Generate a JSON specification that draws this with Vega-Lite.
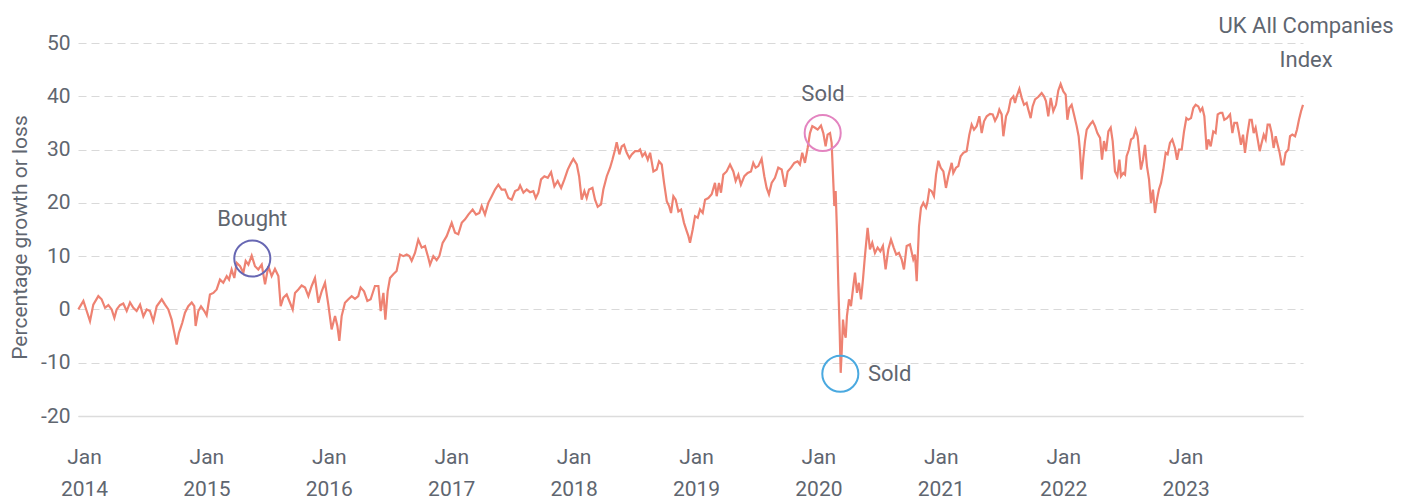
{
  "$schema": "https://vega.github.io/schema/vega-lite/v6.json",
  "width": 1225,
  "height": 373,
  "autosize": {"type": "none"},
  "padding": {"left": 78, "top": 43, "right": 99, "bottom": 87},
  "background": "#ffffff",
  "config": {
    "view": {"stroke": null},
    "font": "Roboto"
  },
  "datasets": {
    "series": [
      {"t":2013.954,"value":0},{"t":2013.995,"value":1.6},{"t":2014.022,"value":-0.3},{"t":2014.049,"value":-2.2},{"t":2014.076,"value":0.9},{"t":2014.117,"value":2.5},{"t":2014.144,"value":1.9},{"t":2014.172,"value":0.3},{"t":2014.199,"value":0.8},{"t":2014.226,"value":0},{"t":2014.248,"value":-1.6},{"t":2014.267,"value":0},{"t":2014.294,"value":0.8},{"t":2014.321,"value":1.1},{"t":2014.349,"value":-0.3},{"t":2014.376,"value":1.3},{"t":2014.403,"value":0.3},{"t":2014.430,"value":-0.3},{"t":2014.458,"value":0.9},{"t":2014.485,"value":-1.3},{"t":2014.512,"value":0},{"t":2014.539,"value":-0.3},{"t":2014.566,"value":-2.2},{"t":2014.594,"value":0.6},{"t":2014.635,"value":1.9},{"t":2014.662,"value":0.9},{"t":2014.689,"value":0},{"t":2014.716,"value":-1.9},{"t":2014.738,"value":-4.4},{"t":2014.757,"value":-6.6},{"t":2014.776,"value":-4.4},{"t":2014.803,"value":-2.5},{"t":2014.825,"value":-0.6},{"t":2014.852,"value":0.6},{"t":2014.880,"value":1.3},{"t":2014.901,"value":0.6},{"t":2014.912,"value":-3.1},{"t":2014.934,"value":-0.3},{"t":2014.956,"value":0.6},{"t":2014.983,"value":-0.3},{"t":2015.002,"value":-1.1},{"t":2015.029,"value":2.8},{"t":2015.057,"value":3.1},{"t":2015.084,"value":3.75},{"t":2015.111,"value":5.6},{"t":2015.138,"value":5},{"t":2015.166,"value":6.25},{"t":2015.185,"value":5.6},{"t":2015.206,"value":7.5},{"t":2015.228,"value":5.9},{"t":2015.247,"value":8.75},{"t":2015.275,"value":8.1},{"t":2015.302,"value":6.9},{"t":2015.321,"value":9.1},{"t":2015.343,"value":8.4},{"t":2015.370,"value":10.1},{"t":2015.397,"value":8.1},{"t":2015.424,"value":7.5},{"t":2015.452,"value":8.4},{"t":2015.479,"value":4.7},{"t":2015.506,"value":8.1},{"t":2015.533,"value":6.25},{"t":2015.560,"value":7.6},{"t":2015.588,"value":6.25},{"t":2015.607,"value":0.6},{"t":2015.629,"value":2.2},{"t":2015.656,"value":2.8},{"t":2015.683,"value":1.25},
      {"t":2015.705,"value":0},{"t":2015.724,"value":3.1},{"t":2015.751,"value":3.75},{"t":2015.778,"value":4.5},{"t":2015.806,"value":4.1},{"t":2015.833,"value":2.5},{"t":2015.860,"value":4.4},{"t":2015.887,"value":5.9},{"t":2015.915,"value":1.25},{"t":2015.942,"value":3.4},{"t":2015.969,"value":5},{"t":2015.996,"value":0.9},{"t":2016.023,"value":-3.75},{"t":2016.051,"value":-1.25},{"t":2016.070,"value":-3.1},{"t":2016.086,"value":-5.9},{"t":2016.105,"value":-1.25},{"t":2016.132,"value":1.25},{"t":2016.160,"value":1.9},{"t":2016.187,"value":2.5},{"t":2016.214,"value":2},{"t":2016.241,"value":2.5},{"t":2016.260,"value":4.1},{"t":2016.288,"value":3.4},{"t":2016.315,"value":1.6},{"t":2016.342,"value":1.9},{"t":2016.377,"value":4.4},{"t":2016.405,"value":4.4},{"t":2016.424,"value":-0.3},{"t":2016.446,"value":3.1},{"t":2016.462,"value":-1.9},{"t":2016.481,"value":3.4},{"t":2016.500,"value":5.9},{"t":2016.527,"value":6.6},{"t":2016.554,"value":7.2},{"t":2016.582,"value":10.3},{"t":2016.609,"value":10},{"t":2016.636,"value":10.3},{"t":2016.658,"value":10},{"t":2016.677,"value":9.1},{"t":2016.704,"value":10.6},{"t":2016.731,"value":13.1},{"t":2016.759,"value":11.6},{"t":2016.786,"value":11.9},{"t":2016.813,"value":9.7},{"t":2016.827,"value":8.4},{"t":2016.854,"value":10},{"t":2016.881,"value":9.25},{"t":2016.903,"value":10},{"t":2016.930,"value":12.5},{"t":2016.963,"value":13.75},{"t":2017.004,"value":16.25},{"t":2017.031,"value":14.4},{"t":2017.058,"value":14.1},{"t":2017.086,"value":16.25},{"t":2017.113,"value":16.9},{"t":2017.140,"value":17.8},{"t":2017.175,"value":18.75},{"t":2017.203,"value":17.8},{"t":2017.230,"value":18.1},{"t":2017.249,"value":19.4},{"t":2017.276,"value":17.8},{"t":2017.303,"value":20},{"t":2017.331,"value":21.25},{"t":2017.358,"value":22.5},{"t":2017.385,"value":23.4},{"t":2017.412,"value":22.5},{"t":2017.440,"value":22.5},
      {"t":2017.467,"value":20.9},{"t":2017.494,"value":20.6},{"t":2017.522,"value":22.2},{"t":2017.549,"value":22.5},{"t":2017.563,"value":23.25},{"t":2017.590,"value":21.9},{"t":2017.617,"value":22.5},{"t":2017.644,"value":22},{"t":2017.671,"value":22.2},{"t":2017.691,"value":20.9},{"t":2017.712,"value":21.9},{"t":2017.734,"value":24.4},{"t":2017.761,"value":25},{"t":2017.789,"value":24.7},{"t":2017.816,"value":25.75},{"t":2017.843,"value":23.1},{"t":2017.870,"value":24.1},{"t":2017.898,"value":22.8},{"t":2017.925,"value":24.4},{"t":2017.952,"value":26.25},{"t":2017.979,"value":27.5},{"t":2017.998,"value":28.25},{"t":2018.026,"value":27.2},{"t":2018.045,"value":25},{"t":2018.066,"value":20.6},{"t":2018.088,"value":22.2},{"t":2018.107,"value":20.9},{"t":2018.126,"value":22.5},{"t":2018.154,"value":22.8},{"t":2018.175,"value":20.6},{"t":2018.197,"value":19.25},{"t":2018.224,"value":19.7},{"t":2018.243,"value":22.5},{"t":2018.271,"value":25},{"t":2018.298,"value":26.6},{"t":2018.317,"value":28.1},{"t":2018.339,"value":30},{"t":2018.352,"value":31.4},{"t":2018.374,"value":29.1},{"t":2018.393,"value":30.6},{"t":2018.412,"value":30.9},{"t":2018.434,"value":29.4},{"t":2018.456,"value":28.4},{"t":2018.475,"value":29.1},{"t":2018.502,"value":29.7},{"t":2018.529,"value":29.7},{"t":2018.543,"value":30},{"t":2018.562,"value":28.75},{"t":2018.584,"value":29.4},{"t":2018.606,"value":28.1},{"t":2018.625,"value":29.4},{"t":2018.652,"value":25.9},{"t":2018.679,"value":26.25},{"t":2018.698,"value":27.8},{"t":2018.720,"value":27.2},{"t":2018.739,"value":23.75},{"t":2018.761,"value":20.3},{"t":2018.780,"value":19.4},{"t":2018.796,"value":18.1},{"t":2018.815,"value":21.25},{"t":2018.834,"value":20.6},{"t":2018.856,"value":18.4},{"t":2018.878,"value":18.75},{"t":2018.902,"value":16.25},{"t":2018.924,"value":14.7},{"t":2018.938,"value":13.75},{"t":2018.951,"value":12.5},{"t":2018.973,"value":15},{"t":2018.992,"value":17.5},{"t":2019.014,"value":17.2},{"t":2019.033,"value":18.75},{"t":2019.055,"value":18.1},{"t":2019.074,"value":20.6},{"t":2019.101,"value":20.9},{"t":2019.128,"value":21.6},
      {"t":2019.155,"value":23.75},{"t":2019.169,"value":21.25},{"t":2019.188,"value":23.75},{"t":2019.204,"value":21.9},{"t":2019.223,"value":25.3},{"t":2019.250,"value":25.9},{"t":2019.278,"value":27.2},{"t":2019.305,"value":25.9},{"t":2019.324,"value":24.1},{"t":2019.346,"value":25.3},{"t":2019.367,"value":23.4},{"t":2019.395,"value":25},{"t":2019.422,"value":25.6},{"t":2019.449,"value":25.9},{"t":2019.468,"value":27.5},{"t":2019.487,"value":26.6},{"t":2019.509,"value":26.9},{"t":2019.536,"value":28.25},{"t":2019.558,"value":25},{"t":2019.577,"value":22.8},{"t":2019.596,"value":21.6},{"t":2019.618,"value":23.75},{"t":2019.645,"value":24.7},{"t":2019.672,"value":26.6},{"t":2019.700,"value":26.25},{"t":2019.727,"value":23},{"t":2019.749,"value":25.9},{"t":2019.776,"value":26.6},{"t":2019.803,"value":27.5},{"t":2019.830,"value":27.8},{"t":2019.849,"value":27.2},{"t":2019.868,"value":29.4},{"t":2019.890,"value":27.5},{"t":2019.912,"value":30.3},{"t":2019.931,"value":33.1},{"t":2019.950,"value":34.4},{"t":2019.972,"value":34.1},{"t":2019.994,"value":33.75},{"t":2020.021,"value":34.5},{"t":2020.040,"value":33.1},{"t":2020.059,"value":30.6},{"t":2020.075,"value":32.8},{"t":2020.095,"value":33.1},{"t":2020.108,"value":31.25},{"t":2020.122,"value":23.75},{"t":2020.130,"value":19.4},{"t":2020.141,"value":22.2},{"t":2020.152,"value":14.4},{"t":2020.163,"value":4.4},{"t":2020.174,"value":-4.4},{"t":2020.182,"value":-11.9},{"t":2020.190,"value":-8.1},{"t":2020.201,"value":-1.9},{"t":2020.212,"value":-4.4},{"t":2020.223,"value":-5.3},{"t":2020.233,"value":-1.25},{"t":2020.250,"value":1.9},{"t":2020.266,"value":0.6},{"t":2020.282,"value":3.75},{"t":2020.299,"value":6.9},{"t":2020.315,"value":3.1},{"t":2020.331,"value":5},{"t":2020.348,"value":1.9},{"t":2020.364,"value":5.6},{"t":2020.380,"value":10},{"t":2020.402,"value":15.3},{"t":2020.421,"value":11.25},{"t":2020.440,"value":12.5},{"t":2020.462,"value":10.6},{"t":2020.484,"value":11.6},{"t":2020.506,"value":10.9},{"t":2020.527,"value":11.9},{"t":2020.549,"value":7.5},{"t":2020.571,"value":11.25},{"t":2020.593,"value":13.1},{"t":2020.615,"value":11.6},{"t":2020.636,"value":10.3},{"t":2020.658,"value":10.6},{"t":2020.680,"value":9.4},{"t":2020.699,"value":7.5},{"t":2020.721,"value":11.9},{"t":2020.748,"value":12.2},{"t":2020.775,"value":9.4},{"t":2020.789,"value":10.3},{"t":2020.803,"value":5.3},{"t":2020.822,"value":15.6},{"t":2020.838,"value":19.1},{"t":2020.857,"value":20},
      {"t":2020.863,"value":19.7},{"t":2020.879,"value":19.1},{"t":2020.890,"value":20},{"t":2020.906,"value":22.5},{"t":2020.925,"value":22.2},{"t":2020.944,"value":21.25},{"t":2020.961,"value":25.3},{"t":2020.980,"value":27.9},{"t":2020.999,"value":26.6},{"t":2021.021,"value":25.9},{"t":2021.042,"value":22.8},{"t":2021.061,"value":25},{"t":2021.089,"value":27.5},{"t":2021.102,"value":25.6},{"t":2021.124,"value":26.6},{"t":2021.143,"value":26.9},{"t":2021.162,"value":28.75},{"t":2021.184,"value":29.4},{"t":2021.211,"value":29.7},{"t":2021.233,"value":32.8},{"t":2021.252,"value":34.7},{"t":2021.271,"value":33.75},{"t":2021.293,"value":34.4},{"t":2021.315,"value":36.25},{"t":2021.334,"value":33.1},{"t":2021.353,"value":35.3},{"t":2021.375,"value":36.25},{"t":2021.402,"value":36.7},{"t":2021.424,"value":36.6},{"t":2021.443,"value":35.4},{"t":2021.462,"value":36.25},{"t":2021.478,"value":37.5},{"t":2021.497,"value":36.6},{"t":2021.511,"value":32.5},{"t":2021.533,"value":36.25},{"t":2021.552,"value":37.2},{"t":2021.571,"value":39.4},{"t":2021.593,"value":40},{"t":2021.606,"value":38.75},{"t":2021.620,"value":40},{"t":2021.642,"value":41.4},{"t":2021.661,"value":39.7},{"t":2021.680,"value":38.4},{"t":2021.701,"value":38.75},{"t":2021.715,"value":37.5},{"t":2021.734,"value":35.9},{"t":2021.750,"value":38.1},{"t":2021.770,"value":39.4},{"t":2021.797,"value":39.9},{"t":2021.824,"value":40.6},{"t":2021.843,"value":40},{"t":2021.859,"value":39.1},{"t":2021.878,"value":36.25},{"t":2021.898,"value":39.7},{"t":2021.919,"value":37.2},{"t":2021.941,"value":38.4},{"t":2021.960,"value":41.1},{"t":2021.979,"value":42.3},{"t":2022.001,"value":40.9},{"t":2022.020,"value":40.3},{"t":2022.034,"value":35.6},{"t":2022.050,"value":37.8},{"t":2022.069,"value":38.4},{"t":2022.088,"value":36.6},{"t":2022.110,"value":34.4},{"t":2022.126,"value":32.5},{"t":2022.137,"value":29.7},{"t":2022.151,"value":24.4},{"t":2022.164,"value":28.4},{"t":2022.178,"value":31.6},{"t":2022.192,"value":33.75},{"t":2022.219,"value":34.7},{"t":2022.241,"value":35.3},{"t":2022.260,"value":34.4},{"t":2022.279,"value":33.1},{"t":2022.301,"value":32.2},{"t":2022.317,"value":28.1},{"t":2022.333,"value":31.6},{"t":2022.350,"value":29.7},{"t":2022.369,"value":33.4},{"t":2022.388,"value":34.1},{"t":2022.404,"value":31.6},{"t":2022.423,"value":25.9},{"t":2022.442,"value":25},{"t":2022.459,"value":28.1},
      {"t":2022.472,"value":25},{"t":2022.491,"value":25.6},{"t":2022.505,"value":25.3},{"t":2022.518,"value":28.75},{"t":2022.537,"value":30},{"t":2022.554,"value":31.9},{"t":2022.573,"value":32.2},{"t":2022.592,"value":33.75},{"t":2022.608,"value":32.5},{"t":2022.619,"value":30},{"t":2022.635,"value":26.25},{"t":2022.652,"value":28.1},{"t":2022.668,"value":30.9},{"t":2022.684,"value":26.9},{"t":2022.701,"value":24.4},{"t":2022.717,"value":20},{"t":2022.733,"value":22.5},{"t":2022.750,"value":18.1},{"t":2022.766,"value":20.6},{"t":2022.782,"value":22.5},{"t":2022.799,"value":23.75},{"t":2022.818,"value":26.25},{"t":2022.837,"value":29.4},{"t":2022.853,"value":29.1},{"t":2022.872,"value":31.25},{"t":2022.891,"value":31.9},{"t":2022.913,"value":30.3},{"t":2022.930,"value":28.1},{"t":2022.946,"value":30},{"t":2022.968,"value":30},{"t":2022.987,"value":33.4},{"t":2023.006,"value":35.9},{"t":2023.022,"value":35.6},{"t":2023.044,"value":35.9},{"t":2023.063,"value":37.8},{"t":2023.082,"value":38.4},{"t":2023.104,"value":38.1},{"t":2023.120,"value":37.2},{"t":2023.137,"value":37.8},{"t":2023.153,"value":36.25},{"t":2023.172,"value":30},{"t":2023.186,"value":31.9},{"t":2023.205,"value":30.6},{"t":2023.226,"value":33.4},{"t":2023.245,"value":33.1},{"t":2023.262,"value":36.6},{"t":2023.284,"value":36.9},{"t":2023.300,"value":36.9},{"t":2023.316,"value":35.6},{"t":2023.338,"value":35.9},{"t":2023.363,"value":36.6},{"t":2023.382,"value":33.1},{"t":2023.398,"value":35},{"t":2023.420,"value":35},{"t":2023.436,"value":33.1},{"t":2023.452,"value":30.9},{"t":2023.469,"value":32.8},{"t":2023.485,"value":29.4},{"t":2023.504,"value":32.8},{"t":2023.523,"value":35.6},{"t":2023.540,"value":35.6},{"t":2023.556,"value":33.1},{"t":2023.572,"value":34.1},{"t":2023.589,"value":31.9},{"t":2023.605,"value":29.7},{"t":2023.621,"value":31.25},{"t":2023.638,"value":32.8},{"t":2023.654,"value":31.9},{"t":2023.670,"value":34.7},{"t":2023.687,"value":34.7},{"t":2023.703,"value":33.1},{"t":2023.719,"value":30.3},{"t":2023.736,"value":32.5},{"t":2023.752,"value":30.9},{"t":2023.768,"value":29.4},{"t":2023.785,"value":27.2},{"t":2023.801,"value":27.2},{"t":2023.817,"value":29.4},{"t":2023.839,"value":30},{"t":2023.853,"value":32.5},{"t":2023.872,"value":32.8},{"t":2023.894,"value":32.5},{"t":2023.910,"value":33.75},{"t":2023.926,"value":35.6},{"t":2023.943,"value":37.2},{"t":2023.959,"value":38.4}
    ],
    "circles": [
      {"t": 2015.375, "value": 9.56, "event": "Bought"},
      {"t": 2020.035, "value": 33.1, "event": "Sold (peak)"},
      {"t": 2020.179, "value": -12.06, "event": "Sold (trough)"}
    ],
    "centerLabels": [
      {"t": 2015.375, "value": 16.9, "text": "Bought"},
      {"t": 2020.038, "value": 40.5, "text": "Sold"},
      {"t": 2023.984, "value": 53.1, "text": "UK All Companies"},
      {"t": 2023.984, "value": 46.9, "text": "Index"}
    ],
    "leftLabels": [
      {"t": 2020.405, "value": -12.2, "text": "Sold"}
    ]
  },
  "layer": [
    {
      "data": {"name": "series"},
      "mark": {"type": "line", "color": "#ee8272", "strokeWidth": 2, "opacity": 0},
      "encoding": {
        "x": {
          "field": "t", "type": "quantitative",
          "scale": {"domain": [2013.951, 2023.959], "nice": false, "zero": false},
          "axis": {
            "values": [2014, 2015, 2016, 2017, 2018, 2019, 2020, 2021, 2022, 2023],
            "labelExpr": "['Jan', toString(datum.value)]",
            "labelFontSize": 21,
            "labelColor": "#5f6670",
            "labelLineHeight": 32,
            "labelPadding": 30,
            "labelBaseline": "top",
            "labelFlush": false,
            "labelOverlap": false,
            "ticks": false,
            "grid": false,
            "domain": true,
            "domainColor": "#dcdcdc",
            "domainWidth": 1.5,
            "title": null
          }
        },
        "y": {
          "field": "value", "type": "quantitative",
          "scale": {"domain": [-20, 50], "nice": false, "zero": false},
          "axis": {
            "values": [-20, -10, 0, 10, 20, 30, 40, 50],
            "labelExpr": "toString(datum.value)",
            "labelFontSize": 21,
            "labelColor": "#5f6670",
            "labelPadding": 8,
            "ticks": false,
            "domain": false,
            "grid": true,
            "gridColor": "#d9d9d9",
            "gridDash": [8, 5],
            "gridWidth": 1,
            "title": "Percentage growth or loss",
            "titleFontSize": 21,
            "titleFontWeight": "normal",
            "titleColor": "#5f6670",
            "titleAngle": -90,
            "titleAlign": "center",
            "titleBaseline": "bottom",
            "titleX": -48,
            "titleY": 194
          }
        }
      }
    },
    {
      "mark": {"type": "rule", "color": "#8c8c8c", "strokeWidth": 3},
      "encoding": {"y": {"datum": 0, "type": "quantitative"}}
    },
    {
      "data": {"name": "series"},
      "mark": {"type": "line", "color": "#ee8272", "strokeWidth": 2.2},
      "encoding": {
        "x": {"field": "t", "type": "quantitative"},
        "y": {"field": "value", "type": "quantitative"}
      }
    },
    {
      "data": {"name": "circles"},
      "mark": {"type": "point", "shape": "circle", "filled": false, "size": 1300, "strokeWidth": 2, "opacity": 1},
      "encoding": {
        "x": {"field": "t", "type": "quantitative"},
        "y": {"field": "value", "type": "quantitative"},
        "color": {
          "field": "event", "type": "nominal",
          "scale": {"domain": ["Bought", "Sold (peak)", "Sold (trough)"], "range": ["#6767b3", "#e384c0", "#4aa9e0"]},
          "legend": null
        }
      }
    },
    {
      "data": {"name": "centerLabels"},
      "mark": {"type": "text", "align": "center", "baseline": "middle", "fontSize": 22, "color": "#5f6670"},
      "encoding": {
        "x": {"field": "t", "type": "quantitative"},
        "y": {"field": "value", "type": "quantitative"},
        "text": {"field": "text"}
      }
    },
    {
      "data": {"name": "leftLabels"},
      "mark": {"type": "text", "align": "left", "baseline": "middle", "fontSize": 22, "color": "#5f6670"},
      "encoding": {
        "x": {"field": "t", "type": "quantitative"},
        "y": {"field": "value", "type": "quantitative"},
        "text": {"field": "text"}
      }
    }
  ]
}
